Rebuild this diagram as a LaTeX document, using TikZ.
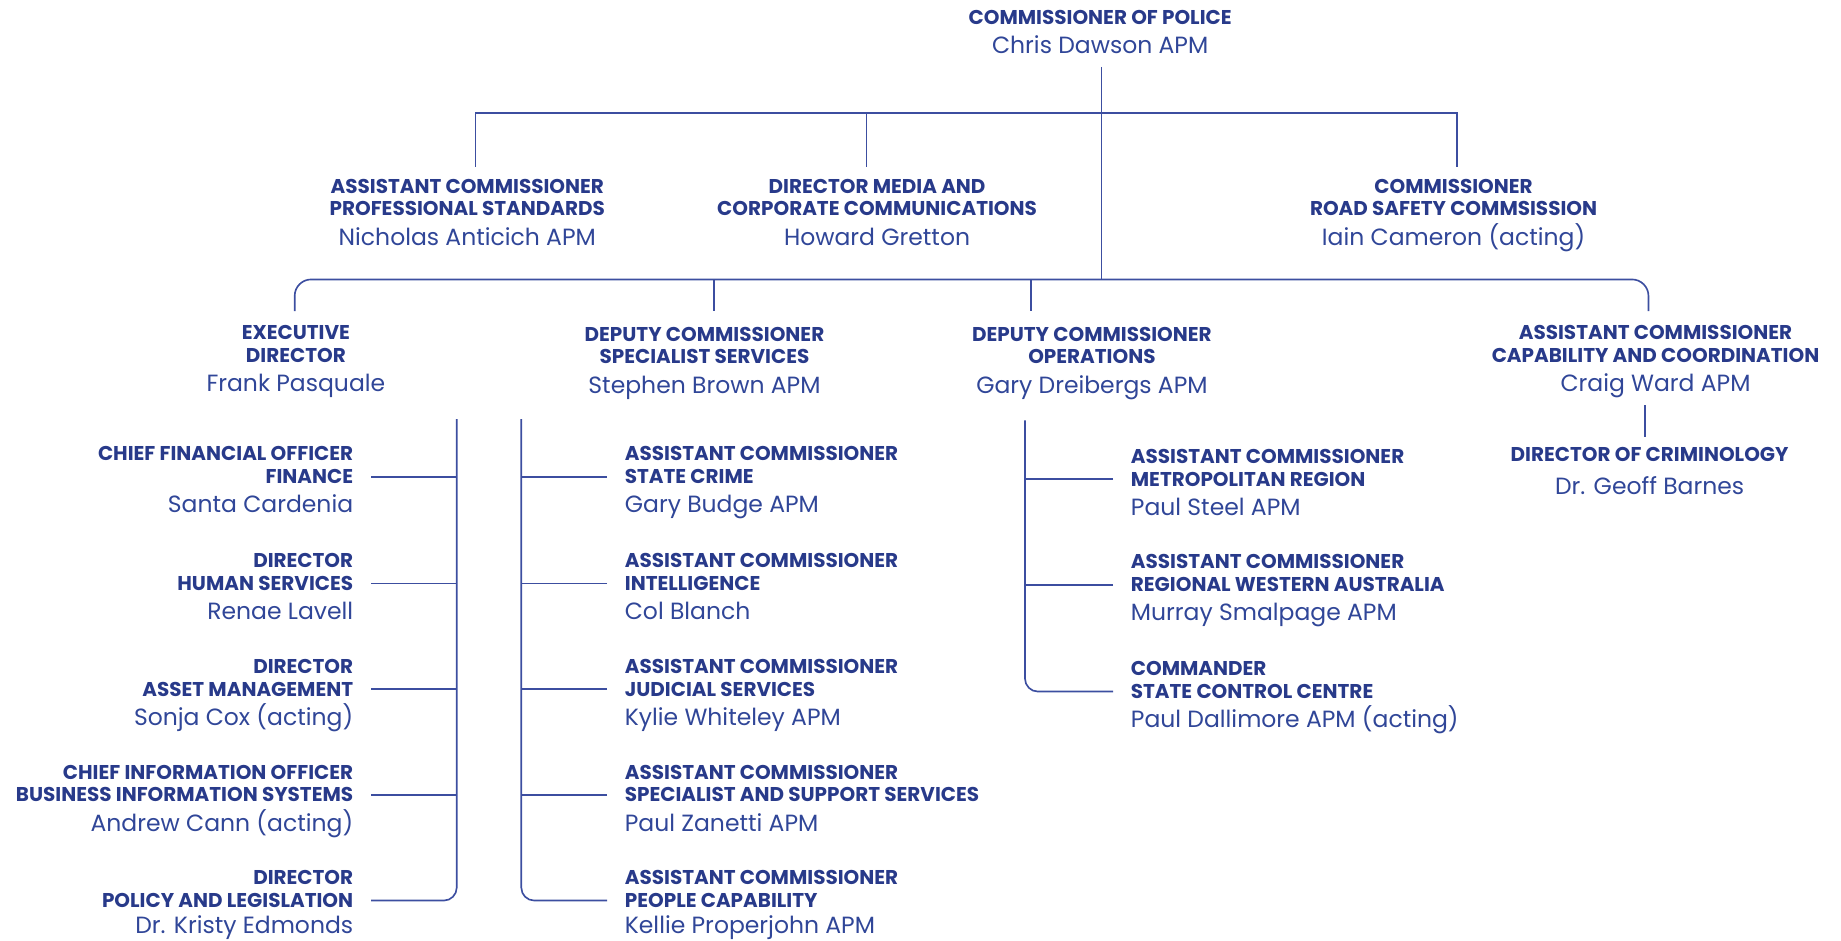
\documentclass[tikz,border=0pt]{standalone}
\usepackage{fontspec}
\setmainfont{Poppins}
\usetikzlibrary{positioning}
\definecolor{wapnavy}{RGB}{40,58,138}
\definecolor{wapname}{RGB}{48,70,152}
\definecolor{wapline}{RGB}{60,78,160}
\begin{document}
\begin{tikzpicture}[x=1pt,y=-1pt,
    role/.style={font=\fontsize{17}{19}\selectfont\bfseries,text=wapnavy,
      inner xsep=15pt,inner ysep=3.55pt,text height=11.9pt,text depth=0pt},
    rolehead/.style={role},
    holder/.style={font=\fontsize{20}{24}\selectfont,text=wapname,
      inner xsep=15pt,inner ysep=0pt,text height=14pt,text depth=0pt,
      yshift=-6.9pt},
    link/.style={draw=wapline,line width=1.4pt}]

  \useasboundingbox (0,0) rectangle (1568,801);

  % top
  \node[role,label={[holder]below:Chris Dawson APM}] (cop) at (937,15)
    {COMMISSIONER OF POLICE};

  % second level
  \node[role,label={[rolehead]above:ASSISTANT COMMISSIONER},
    label={[holder]below:Nicholas Anticich APM}] (prof) at (398,178)
    {PROFESSIONAL STANDARDS};
  \node[role,label={[rolehead]above:DIRECTOR MEDIA AND},
    label={[holder]below:Howard Gretton}] (media) at (747,178)
    {CORPORATE COMMUNICATIONS};
  \node[role,label={[rolehead]above:COMMISSIONER},
    label={[holder]below:Iain Cameron (acting)}] (road) at (1238,178)
    {ROAD SAFETY COMMSISSION};

  % third level
  \node[role,label={[rolehead]above:EXECUTIVE},
    label={[holder]below:Frank Pasquale}] (exec) at (252,303) {DIRECTOR};
  \node[role,label={[rolehead]above:DEPUTY COMMISSIONER},
    label={[holder]below:Stephen Brown APM}] (spec) at (600,304)
    {SPECIALIST SERVICES};
  \node[role,label={[rolehead]above:DEPUTY COMMISSIONER},
    label={[holder]below:Gary Dreibergs APM}] (ops) at (930,304)
    {OPERATIONS};
  \node[role,label={[rolehead]above:ASSISTANT COMMISSIONER},
    label={[holder]below:Craig Ward APM}] (capco) at (1410,303)
    {CAPABILITY AND COORDINATION};
  \node[role,label={[holder,yshift=-3pt]below:Dr. Geoff Barnes}] (crim)
    at (1405,387) {DIRECTOR OF CRIMINOLOGY};

  % executive director column
  \node[role,anchor=east,
    label={[rolehead,anchor=south east]north east:CHIEF FINANCIAL OFFICER},
    label={[holder,anchor=north east]south east:Santa Cardenia}] (fin)
    at (316,406) {FINANCE};
  \node[role,anchor=east,
    label={[rolehead,anchor=south east]north east:DIRECTOR},
    label={[holder,anchor=north east]south east:Renae Lavell}] (hr)
    at (316,497) {HUMAN SERVICES};
  \node[role,anchor=east,
    label={[rolehead,anchor=south east]north east:DIRECTOR},
    label={[holder,anchor=north east]south east:Sonja Cox (acting)}] (asset)
    at (316,587) {ASSET MANAGEMENT};
  \node[role,anchor=east,
    label={[rolehead,anchor=south east]north east:CHIEF INFORMATION OFFICER},
    label={[holder,anchor=north east]south east:Andrew Cann (acting)}] (bis)
    at (316,677) {BUSINESS INFORMATION SYSTEMS};
  \node[role,anchor=east,
    label={[rolehead,anchor=south east]north east:DIRECTOR},
    label={[holder,anchor=north east,yshift=3pt]south east:Dr. Kristy Edmonds}]
    (policy) at (316,767) {POLICY AND LEGISLATION};

  % specialist services column
  \node[role,anchor=west,
    label={[rolehead,anchor=south west]north west:ASSISTANT COMMISSIONER},
    label={[holder,anchor=north west]south west:Gary Budge APM}] (crime)
    at (517,406) {STATE CRIME};
  \node[role,anchor=west,
    label={[rolehead,anchor=south west]north west:ASSISTANT COMMISSIONER},
    label={[holder,anchor=north west]south west:Col Blanch}] (intel)
    at (517,497) {INTELLIGENCE};
  \node[role,anchor=west,
    label={[rolehead,anchor=south west]north west:ASSISTANT COMMISSIONER},
    label={[holder,anchor=north west]south west:Kylie Whiteley APM}] (judic)
    at (517,587) {JUDICIAL SERVICES};
  \node[role,anchor=west,
    label={[rolehead,anchor=south west]north west:ASSISTANT COMMISSIONER},
    label={[holder,anchor=north west]south west:Paul Zanetti APM}] (supp)
    at (517,677) {SPECIALIST AND SUPPORT SERVICES};
  \node[role,anchor=west,
    label={[rolehead,anchor=south west]north west:ASSISTANT COMMISSIONER},
    label={[holder,anchor=north west,yshift=3pt]south west:Kellie Properjohn APM}]
    (people) at (517,767) {PEOPLE CAPABILITY};

  % operations column
  \node[role,anchor=west,
    label={[rolehead,anchor=south west]north west:ASSISTANT COMMISSIONER},
    label={[holder,anchor=north west]south west:Paul Steel APM}] (metro)
    at (948,408) {METROPOLITAN REGION};
  \node[role,anchor=west,
    label={[rolehead,anchor=south west]north west:ASSISTANT COMMISSIONER},
    label={[holder,anchor=north west]south west:Murray Smalpage APM}] (regional)
    at (948,498) {REGIONAL WESTERN AUSTRALIA};
  \node[role,anchor=west,
    label={[rolehead,anchor=south west]north west:COMMANDER},
    label={[holder,anchor=north west]south west:Paul Dallimore APM (acting)}] (scc)
    at (948,589) {STATE CONTROL CENTRE};

  % junctions
  \coordinate (hubT) at (938,57);
  \coordinate (barA) at (938,96);
  \coordinate (hubB) at (938,238);
  \coordinate (dProf) at (405,142);
  \coordinate (dMedia) at (738,142);
  \coordinate (dRoad) at (1241,142);
  \coordinate (dExec) at (251,265);
  \coordinate (dSpec) at (608,265);
  \coordinate (dOps) at (878,265);
  \coordinate (dCap) at (1404,265);
  \coordinate (cwEnd) at (1401,345);
  \coordinate (crimTop) at (1401,372);
  \coordinate (spEx) at (389,357);
  \coordinate (spSp) at (444,357);
  \coordinate (spOp) at (873,358);

  % connectors
  \draw[link] (hubT) -- (hubB);
  \draw[link] (dProf) -- (dProf |- barA) -- (dRoad |- barA) -- (dRoad);
  \draw[link] (dMedia |- barA) -- (dMedia);
  \draw[link,rounded corners=14pt] (dExec) -- (dExec |- hubB)
    -- (dCap |- hubB) -- (dCap);
  \draw[link] (dSpec |- hubB) -- (dSpec);
  \draw[link] (dOps |- hubB) -- (dOps);
  \draw[link] (cwEnd) -- (crimTop);

  \draw[link,rounded corners=11pt] (spEx) -- (spEx |- policy) -- (policy);
  \draw[link] (fin) -- (fin -| spEx);
  \draw[link] (hr) -- (hr -| spEx);
  \draw[link] (asset) -- (asset -| spEx);
  \draw[link] (bis) -- (bis -| spEx);

  \draw[link,rounded corners=11pt] (spSp) -- (spSp |- people) -- (people);
  \draw[link] (crime) -- (crime -| spSp);
  \draw[link] (intel) -- (intel -| spSp);
  \draw[link] (judic) -- (judic -| spSp);
  \draw[link] (supp) -- (supp -| spSp);

  \draw[link,rounded corners=11pt] (spOp) -- (spOp |- scc) -- (scc);
  \draw[link] (metro) -- (metro -| spOp);
  \draw[link] (regional) -- (regional -| spOp);

\end{tikzpicture}
\end{document}
